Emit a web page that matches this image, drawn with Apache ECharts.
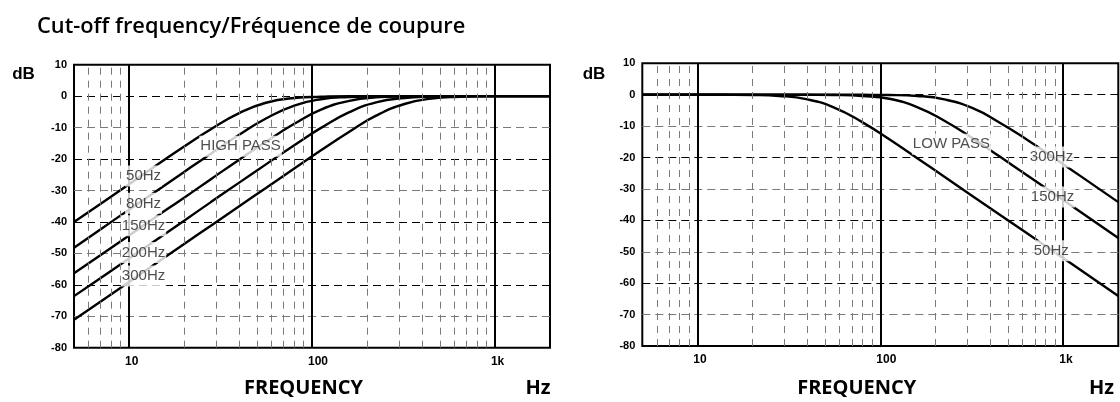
<!DOCTYPE html>
<html>
<head>
<meta charset="utf-8">
<script src="https://cdn.jsdelivr.net/npm/echarts@6/dist/echarts.min.js"></script>
<style>
  html, body { margin: 0; padding: 0; background: #fff; }
  #chart { width: 1120px; height: 402px; }
</style>
</head>
<body>
<div id="chart"></div>
<script>
// ---------- data ----------
const freqs = [5, 7, 10, 14, 20, 28, 40, 56, 80, 112, 160, 224, 320, 450, 640, 900, 1250, 2000];

// high-pass responses (dB)
const hp50  = [-40.0, -34.2, -28.0, -22.1, -16.0, -10.5, -5.4, -2.1, -0.6, -0.2, 0, 0, 0, 0, 0, 0, 0, 0];
const hp80  = [-48.2, -42.3, -36.1, -30.3, -24.1, -18.3, -12.3, -7.1, -3.0, -1.0, -0.3, -0.1, 0, 0, 0, 0, 0, 0];
const hp150 = [-56.3, -50.5, -44.3, -38.4, -32.3, -26.4, -20.2, -14.5, -8.8, -4.3, -1.5, -0.4, -0.1, 0, 0, 0, 0, 0];
const hp200 = [-63.6, -57.8, -51.6, -45.8, -39.6, -33.7, -27.5, -21.7, -15.6, -10.1, -5.1, -2.0, -0.6, -0.15, 0, 0, 0, 0];
const hp300 = [-71.1, -65.3, -59.1, -53.2, -47.0, -41.2, -35.0, -29.2, -23.0, -17.2, -11.3, -6.2, -2.5, -0.8, -0.2, 0, 0, 0];

// low-pass responses (dB)
const lp50  = [0, 0, 0, -0.03, -0.1, -0.4, -1.5, -4.1, -8.8, -14.2, -20.3, -26.1, -32.3, -38.2, -44.3, -50.2, -55.9, -64.1];
const lp150 = [0, 0, 0, 0, 0, 0, -0.03, -0.1, -0.4, -1.3, -4.0, -8.3, -13.9, -19.7, -25.8, -31.7, -37.4, -45.6];
const lp300 = [0, 0, 0, 0, 0, 0, 0, 0, -0.03, -0.1, -0.4, -1.5, -4.3, -8.9, -14.5, -20.3, -26.0, -34.2];

// axis ticks
const xTickText = { 10: '10', 100: '100', 1000: '1k' };
const minorFreqs = [6, 7, 8, 9, 20, 30, 40, 50, 60, 70, 80, 90, 200, 300, 400, 500, 600, 700, 800, 900];

// curve annotations (text + anchor in data units)
const hpLabelText = ['HIGH PASS', '50Hz', '80Hz', '150Hz', '200Hz', '300Hz'];
const hpLabelFreq = [40.7, 12.0, 12.0, 12.0, 12.0, 12.0];
const hpLabelDb   = [-15.9, -25.4, -34.1, -41.2, -49.7, -57.2];

const lpLabelText = ['LOW PASS', '300Hz', '150Hz', '50Hz'];
const lpLabelFreq = [245, 863, 874, 860];
const lpLabelDb   = [-15.8, -19.8, -32.6, -49.7];

// ---------- chart ----------
const pts = arr => freqs.map((f, i) => [f, arr[i]]);

function xAxisFor(gi) {
  return {
    type: 'log', logBase: 10, min: 5, max: 2000, gridIndex: gi,
    axisLine: { show: false }, axisTick: { show: false },
    axisLabel: {
      show: true, showMinLabel: false, showMaxLabel: false,
      formatter: v => xTickText[Math.round(v)] || '',
      fontSize: 12, fontWeight: 'bold', fontFamily: 'Liberation Sans', color: '#000',
      margin: 8, align: 'left', padding: [0, 0, 0, -4]
    },
    splitLine: { show: true, showMinLine: false, showMaxLine: false, lineStyle: { color: '#000', width: 2 } }
  };
}
function yAxisFor(gi) {
  return {
    type: 'value', min: -80, max: 10, interval: 10, gridIndex: gi,
    axisLine: { show: false }, axisTick: { show: false },
    axisLabel: { fontSize: 11, fontWeight: 'bold', fontFamily: 'Liberation Sans', color: '#000', margin: 7 },
    splitLine: { show: true, showMinLine: true, showMaxLine: false,
      lineStyle: { color: ['#000', '#7a7a7a'], width: 1, type: [8, 5] } }
  };
}
function curve(gi, arr) {
  return {
    type: 'line', xAxisIndex: gi, yAxisIndex: gi, data: pts(arr),
    smooth: 0.5, showSymbol: false, symbol: 'none', z: 3,
    lineStyle: { color: '#000', width: 2.4 }
  };
}
function minorGrid(gi) {
  return {
    type: 'line', xAxisIndex: gi, yAxisIndex: gi, data: [], z: 1, silent: true,
    markLine: {
      silent: true, symbol: 'none', label: { show: false }, animation: false,
      lineStyle: { color: '#7a7a7a', width: 1, type: [7, 6] },
      emphasis: { disabled: true },
      data: minorFreqs.map(f => ({ xAxis: f }))
    }
  };
}
function annot(gi, texts, fs, dbs) {
  return {
    type: 'scatter', xAxisIndex: gi, yAxisIndex: gi, symbolSize: 0, z: 10, silent: true,
    itemStyle: { color: 'transparent' },
    data: texts.map((t, i) => ({ value: [fs[i], dbs[i]], name: t })),
    label: {
      show: true, position: 'inside', formatter: p => p.name,
      fontSize: 15, fontFamily: 'Liberation Sans', color: '#222',
      textBorderWidth: 0, textBorderColor: 'transparent', textShadowBlur: 0,
      backgroundColor: '#fff', padding: [3, 1], lineHeight: 15
    },
    emphasis: { disabled: true }
  };
}
function txt(x, y, text, font, align) {
  return { type: 'text', x: x, y: y, silent: true,
    style: { text: text, font: font, fill: '#000', align: align, verticalAlign: 'middle',
             textAlign: align, textVerticalAlign: 'middle' } };
}

const chart = echarts.init(document.getElementById('chart'), null, { renderer: 'canvas' });
chart.setOption({
  animation: false,
  backgroundColor: '#fff',
  grid: [
    { left: 74, top: 64.7, width: 476, height: 283, show: true, borderColor: '#000', borderWidth: 2, backgroundColor: 'transparent' },
    { left: 642.3, top: 63.3, width: 476, height: 282.7, show: true, borderColor: '#000', borderWidth: 2, backgroundColor: 'transparent' }
  ],
  xAxis: [xAxisFor(0), xAxisFor(1)],
  yAxis: [yAxisFor(0), yAxisFor(1)],
  series: [
    minorGrid(0), minorGrid(1),
    curve(0, hp50), curve(0, hp80), curve(0, hp150), curve(0, hp200), curve(0, hp300),
    curve(1, lp50), curve(1, lp150), curve(1, lp300),
    annot(0, hpLabelText, hpLabelFreq, hpLabelDb),
    annot(1, lpLabelText, lpLabelFreq, lpLabelDb)
  ],
  graphic: [
    txt(37, 27, 'Cut-off frequency/Fréquence de coupure', '600 21.8px "Open Sans"', 'left'),
    txt(23.5, 74, 'dB', 'bold 17px "Liberation Sans"', 'center'),
    txt(594, 74, 'dB', 'bold 17px "Liberation Sans"', 'center'),
    txt(303.5, 388.5, 'FREQUENCY', 'bold 20px "Open Sans"', 'center'),
    txt(538, 388.5, 'Hz', 'bold 20px "Open Sans"', 'center'),
    txt(856.7, 388.5, 'FREQUENCY', 'bold 20px "Open Sans"', 'center'),
    txt(1101.5, 388.5, 'Hz', 'bold 20px "Open Sans"', 'center')
  ]
});
</script>
</body>
</html>
